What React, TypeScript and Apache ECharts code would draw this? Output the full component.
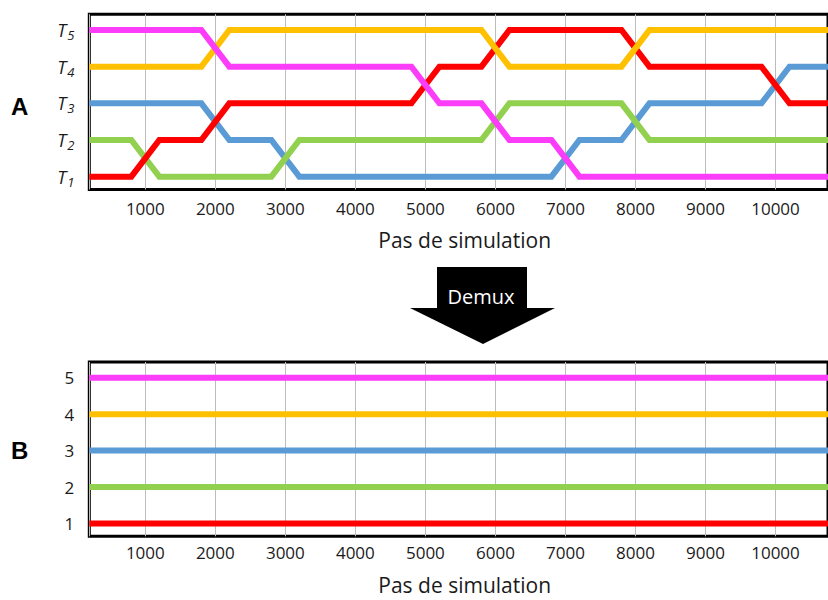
import React, { useEffect, useRef } from "react";
import * as echarts from "echarts";

// ---- Data ----
const levelLabelsA = ["T1", "T2", "T3", "T4", "T5"];
const levelLabelsB = ["1", "2", "3", "4", "5"];
const xTicks = [1000, 2000, 3000, 4000, 5000, 6000, 7000, 8000, 9000, 10000];
const X_MIN = 200;
const X_MAX = 10750;

// Panel A: trajectories of the 5 replicas across temperatures (step, level)
const trajRed = [[200, 1], [800, 1], [1200, 2], [1800, 2], [2200, 3], [4800, 3], [5200, 4], [5800, 4], [6200, 5], [7800, 5], [8200, 4], [9800, 4], [10200, 3], [10750, 3]];
const trajGreen = [[200, 2], [800, 2], [1200, 1], [2800, 1], [3200, 2], [5800, 2], [6200, 3], [7800, 3], [8200, 2], [10750, 2]];
const trajBlue = [[200, 3], [1800, 3], [2200, 2], [2800, 2], [3200, 1], [6800, 1], [7200, 2], [7800, 2], [8200, 3], [9800, 3], [10200, 4], [10750, 4]];
const trajOrange = [[200, 4], [1800, 4], [2200, 5], [5800, 5], [6200, 4], [7800, 4], [8200, 5], [10750, 5]];
const trajMagenta = [[200, 5], [1800, 5], [2200, 4], [4800, 4], [5200, 3], [5800, 3], [6200, 2], [6800, 2], [7200, 1], [10750, 1]];

// Panel B: demultiplexed (constant) trajectories
const demuxRed = [[200, 1], [10750, 1]];
const demuxGreen = [[200, 2], [10750, 2]];
const demuxBlue = [[200, 3], [10750, 3]];
const demuxOrange = [[200, 4], [10750, 4]];
const demuxMagenta = [[200, 5], [10750, 5]];

const COLORS = {
  red: "#FF0000",
  green: "#92D050",
  blue: "#5B9BD5",
  orange: "#FFC000",
  magenta: "#FB3DF9",
};

const FONT = "'Open Sans', 'Liberation Sans', sans-serif";

export default function App() {
  const ref = useRef<HTMLDivElement>(null);

  useEffect(() => {
    if (!ref.current) return;
    const chart = echarts.init(ref.current, undefined, { renderer: "svg" });

    const xAxisBase = (gridIndex: number, margin: number, nameGap: number) => ({
      gridIndex,
      type: "value",
      min: X_MIN,
      max: X_MAX,
      splitNumber: 10,
      axisLine: { show: false },
      axisTick: { show: false },
      axisLabel: {
        margin,
        fontSize: 17,
        fontFamily: FONT,
        color: "#1a1a1a",
        showMinLabel: false,
        showMaxLabel: false,
        formatter: (v: number) => (xTicks.includes(v) ? String(v) : ""),
      },
      splitLine: { show: true, lineStyle: { color: "#bdbdbd", width: 1 } },
      name: "Pas de simulation",
      nameLocation: "middle",
      nameGap,
      nameTextStyle: {
        fontSize: 21,
        fontFamily: FONT,
        color: "#1a1a1a",
        padding: [0, 0, 0, 12],
      },
    });

    const yAxisBase = (gridIndex: number, italicT: boolean) => ({
      gridIndex,
      type: "value",
      min: 0.65,
      max: 5.43,
      axisLine: { show: false },
      axisTick: { show: false },
      splitLine: { show: false },
      axisLabel: {
        margin: 15,
        fontFamily: FONT,
        color: "#1a1a1a",
        fontSize: 17,
        showMinLabel: false,
        showMaxLabel: false,
        formatter: (v: number) => {
          if (Math.abs(v - Math.round(v)) > 1e-6 || v < 1 || v > 5) return "";
          const i = Math.round(v) - 1;
          if (italicT) {
            const lab = levelLabelsA[i];
            return `{t|${lab[0]}}{s|${lab.slice(1)}}`;
          }
          return levelLabelsB[i];
        },
        rich: italicT
          ? {
              t: { fontSize: 18, fontStyle: "italic", fontFamily: FONT, color: "#1a1a1a", lineHeight: 20 },
              s: { fontSize: 13, fontStyle: "italic", fontFamily: FONT, color: "#1a1a1a", lineHeight: 20, padding: [10, 0, 0, 1] },
            }
          : undefined,
      },
    });

    const line = (name: string, data: number[][], color: string, idx: number) => ({
      name,
      type: "line",
      xAxisIndex: idx,
      yAxisIndex: idx,
      data,
      symbol: "none",
      lineStyle: { color, width: 6, cap: "butt", join: "miter" },
      itemStyle: { color },
      clip: true,
    });

    const option = {
      animation: false,
      backgroundColor: "#ffffff",
      grid: [
        { left: 89.3, top: 14.2, width: 743.6, height: 175.3, show: true, borderColor: "#000", borderWidth: 3, backgroundColor: "transparent" },
        { left: 89.3, top: 362, width: 743.6, height: 174.3, show: true, borderColor: "#000", borderWidth: 3, backgroundColor: "transparent" },
      ],
      xAxis: [xAxisBase(0, 10, 40), xAxisBase(1, 8, 38)],
      yAxis: [yAxisBase(0, true), yAxisBase(1, false)],
      series: [
        line("Réplique 3", trajBlue, COLORS.blue, 0),
        line("Réplique 2", trajGreen, COLORS.green, 0),
        line("Réplique 1", trajRed, COLORS.red, 0),
        line("Réplique 4", trajOrange, COLORS.orange, 0),
        line("Réplique 5", trajMagenta, COLORS.magenta, 0),
        line("Démux 1", demuxRed, COLORS.red, 1),
        line("Démux 2", demuxGreen, COLORS.green, 1),
        line("Démux 3", demuxBlue, COLORS.blue, 1),
        line("Démux 4", demuxOrange, COLORS.orange, 1),
        line("Démux 5", demuxMagenta, COLORS.magenta, 1),
      ],
      graphic: [
        {
          type: "text",
          left: 11,
          top: 94,
          style: { text: "A", fontSize: 24, fontWeight: "bold", fontFamily: "'Liberation Sans', Arial, sans-serif", fill: "#000" },
        },
        {
          type: "text",
          left: 11,
          top: 438,
          style: { text: "B", fontSize: 24, fontWeight: "bold", fontFamily: "'Liberation Sans', Arial, sans-serif", fill: "#000" },
        },
        {
          type: "polygon",
          shape: {
            points: [
              [437, 267],
              [527, 267],
              [527, 308],
              [555, 308],
              [483, 344],
              [410, 308],
              [437, 308],
            ],
          },
          style: { fill: "#000" },
        },
        {
          type: "text",
          x: 481,
          y: 296,
          style: {
            text: "Demux",
            fontSize: 20,
            fontFamily: FONT,
            fill: "#fff",
            align: "center",
            verticalAlign: "middle",
          },
        },
      ],
    };

    chart.setOption(option as any);
    return () => chart.dispose();
  }, []);

  return (
    <div
      ref={ref}
      style={{ position: "absolute", left: 0, top: 0, width: 828, height: 600, background: "#fff" }}
    />
  );
}
